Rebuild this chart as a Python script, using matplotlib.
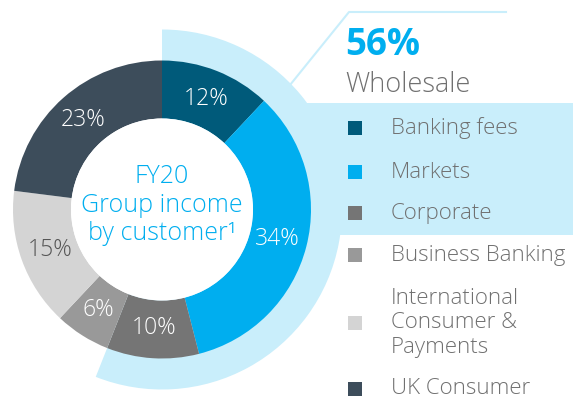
import matplotlib.pyplot as plt

# data (share of FY20 group income, %)
segments = ['Banking fees', 'Markets', 'Corporate', 'Business Banking',
            'International\nConsumer &\nPayments', 'UK Consumer']
shares = [12, 34, 10, 6, 15, 23]
colors = ['#005a7a', '#00aeef', '#757575', '#999999', '#d4d4d4', '#3d4d5b']
label_colors = ['white', 'white', 'white', 'white', '#555555', 'white']

wholesale_share = 56
highlight = '#c9eefb'
grey_txt = '#707070'

plt.rcParams['font.family'] = ['Open Sans', 'DejaVu Sans']

fig = plt.figure(figsize=(5.73, 4.0), dpi=100)
ax = fig.add_axes([0, 0, 1, 1])

cx, cy = 162, 190.5

# light blue highlight behind the wholesale part
ax.pie([wholesale_share, 100 - wholesale_share], colors=[highlight, 'none'],
       startangle=90, counterclock=False, radius=180, center=(cx, cy),
       wedgeprops=dict(linewidth=0))
ax.add_patch(plt.Rectangle((cx, 165), 573 - cx, 132, color=highlight, lw=0, zorder=0))
ax.plot([290, 349, 506], [315, 388, 388], color=highlight, lw=1.5)

# the donut
wedges, texts = ax.pie(shares, colors=colors, startangle=90, counterclock=False,
                       radius=149, center=(cx, cy),
                       labels=[f'{s}%' for s in shares], labeldistance=0.8,
                       wedgeprops=dict(width=58, linewidth=0))
for t, c in zip(texts, label_colors):
    t.set_color(c)
    t.set_fontsize(16.5)
    t.set_fontweight('light')
    t.set_ha('center')
    t.set_va('center')

# white hole in the middle
ax.add_patch(plt.Circle((cx, cy), 91, color='white', lw=0, zorder=3))
ax.text(cx, 195, 'FY20\nGroup income\nby customer\u00b9', ha='center', va='center',
        color='#00aeef', fontsize=18, fontweight='light', linespacing=1.2, zorder=4)

# wholesale header
ax.text(345, 355, '56%', color='#00aeef', fontsize=26.5, fontweight='bold', va='center')
ax.text(345, 315, 'Wholesale', color=grey_txt, fontsize=19.5, fontweight='light', va='center')

# legend
legend_y = [272, 228, 187, 145, 77, 11]
for name, col, y in zip(segments, colors, legend_y):
    ax.scatter([355], [y], marker='s', s=100, color=col, lw=0)
    ax.text(391, y, name, color=grey_txt, fontsize=16, fontweight='light',
            va='center', linespacing=1.2)

ax.set_xlim(0, 573)
ax.set_ylim(0, 400)
ax.set_aspect('equal')
ax.axis('off')

fig.savefig('out.png', dpi=100)
